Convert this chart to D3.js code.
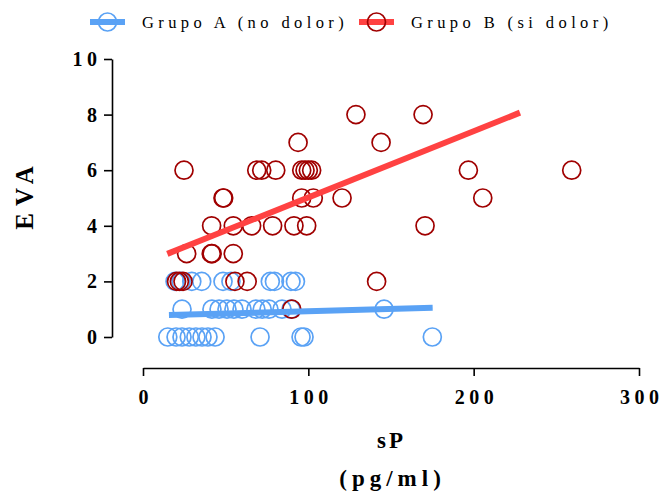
<!DOCTYPE html>
<html>
<head>
<meta charset="utf-8">
<script src="https://cdn.jsdelivr.net/npm/d3@7"></script>
<style>
  html, body { margin: 0; padding: 0; background: #fff; }
  svg { display: block; }
  text { font-family: "Liberation Serif", "Times New Roman", serif; fill: #000; }
</style>
</head>
<body>
<svg id="chart" width="660" height="495"></svg>
<script>
// Group A (no pain): substance P (pg/ml) and EVA score
const groupA_sP  = [15, 20, 23.6, 28, 32, 35.7, 39.3, 43.6, 70.8, 95.6, 97.4, 175,
                    23.6, 41.7, 46, 50.8, 55, 59.9, 68.3, 72.1, 76.2, 84.1, 89.5, 145.8,
                    19.4, 23, 29.5, 35.5, 48.4, 53.2, 77, 79.5, 89.5, 92.2];
const groupA_EVA = [0, 0, 0, 0, 0, 0, 0, 0, 0, 0, 0, 0,
                    1, 1, 1, 1, 1, 1, 1, 1, 1, 1, 1, 1,
                    2, 2, 2, 2, 2, 2, 2, 2, 2, 2];

// Group B (pain)
const groupB_sP  = [128.8, 169.4,
                    93.8, 144,
                    24.8, 68.8, 71.8, 80.3, 96, 98, 100, 102, 196.8, 259.3,
                    48.4, 48.8, 96, 103, 120.4, 205.5,
                    41.5, 54.6, 65.7, 78.4, 91.3, 99, 170.6,
                    26.4, 41.3, 41.8, 54.6,
                    20.3, 22, 24.2, 55.6, 63, 141.3,
                    90];
const groupB_EVA = [8, 8,
                    7, 7,
                    6, 6, 6, 6, 6, 6, 6, 6, 6, 6,
                    5, 5, 5, 5, 5, 5,
                    4, 4, 4, 4, 4, 4, 4,
                    3, 3, 3, 3,
                    2, 2, 2, 2, 2, 2,
                    1];

// Linear fit endpoints for each group
const fitA_sP = [15.7, 175.2];
const fitA_EVA = [0.79, 1.05];
const fitB_sP = [14.7, 228];
const fitB_EVA = [2.99, 8.07];

const xTicks = [0, 100, 200, 300];
const yTicks = [0, 2, 4, 6, 8, 10];
const legendLabels = ["Grupo A (no dolor)", "Grupo B (si dolor)"];

const colA = "#5aa2f5", colALine = "#5aa2f5";
const colB = "#a00000", colBLine = "#ff4242";

const svg = d3.select("#chart");

const x = d3.scaleLinear().domain([0, 300]).range([143, 639]);
const y = d3.scaleLinear().domain([0, 10]).range([337, 59]);

const tickSpacing = 4.5;

// Spread characters apart with tspans so no trailing gap is added after the last one
function spaced(sel, gap) {
  sel.each(function () {
    const t = d3.select(this);
    const s = t.text();
    t.text(null);
    [...s].forEach((ch, i) => t.append("tspan").attr("dx", i ? gap : 0).text(ch));
  });
}

// Axes (offset from one another)
const xAxis = svg.append("g")
  .attr("transform", "translate(0,368)")
  .call(d3.axisBottom(x).tickValues(xTicks).tickSize(8).tickSizeOuter(0).tickPadding(14));
const yAxis = svg.append("g")
  .attr("transform", "translate(112,0)")
  .call(d3.axisLeft(y).tickValues(yTicks).tickSize(8).tickSizeOuter(0).tickPadding(7));

[xAxis, yAxis].forEach(g => {
  g.select(".domain").attr("stroke", "#000").attr("stroke-width", 1.6);
  g.selectAll(".tick line").attr("stroke", "#000").attr("stroke-width", 1.6);
  g.selectAll(".tick text")
    .style("font-family", "'Liberation Serif', serif")
    .style("font-weight", "bold")
    .style("font-size", "20px")
    .attr("fill", "#000")
    .call(spaced, tickSpacing);
});

// Axis titles
svg.append("text")
  .attr("transform", "translate(33,198) rotate(-90)")
  .attr("text-anchor", "middle")
  .style("font-weight", "bold").style("font-size", "25px")
  .text("EVA").call(spaced, 7);
svg.append("text")
  .attr("x", 390).attr("y", 448)
  .attr("text-anchor", "middle")
  .style("font-weight", "bold").style("font-size", "23px")
  .text("sP").call(spaced, 3);
svg.append("text")
  .attr("x", 390).attr("y", 486)
  .attr("text-anchor", "middle")
  .style("font-weight", "bold").style("font-size", "23px")
  .text("(pg/ml)").call(spaced, 5);

// Points
const r = 9;
svg.append("g").selectAll("circle")
  .data(d3.zip(groupA_sP, groupA_EVA))
  .join("circle")
  .attr("cx", d => x(d[0])).attr("cy", d => y(d[1])).attr("r", r)
  .attr("fill", "none").attr("stroke", colA).attr("stroke-width", 1.7);

svg.append("g").selectAll("circle")
  .data(d3.zip(groupB_sP, groupB_EVA))
  .join("circle")
  .attr("cx", d => x(d[0])).attr("cy", d => y(d[1])).attr("r", r)
  .attr("fill", "none").attr("stroke", colB).attr("stroke-width", 1.7);

// Fit lines
const line = d3.line().x(d => x(d[0])).y(d => y(d[1]));
svg.append("path").datum(d3.zip(fitA_sP, fitA_EVA))
  .attr("d", line).attr("stroke", colALine).attr("stroke-width", 6).attr("fill", "none");
svg.append("path").datum(d3.zip(fitB_sP, fitB_EVA))
  .attr("d", line).attr("stroke", colBLine).attr("stroke-width", 6).attr("fill", "none");

// Legend
const legend = svg.append("g");
const legendItems = [
  { label: legendLabels[0], x0: 90, circ: colA, lineCol: colALine },
  { label: legendLabels[1], x0: 359, circ: colB, lineCol: colBLine }
];
legendItems.forEach(it => {
  const g = legend.append("g").attr("transform", `translate(${it.x0},22)`);
  g.append("line").attr("x1", 0).attr("x2", 35).attr("y1", 0).attr("y2", 0)
    .attr("stroke", it.lineCol).attr("stroke-width", 6);
  g.append("circle").attr("cx", 17.5).attr("cy", 0).attr("r", r)
    .attr("fill", "none").attr("stroke", it.circ).attr("stroke-width", 1.7);
  g.append("text").attr("x", 52).attr("y", 6)
    .style("font-size", "16.5px").style("letter-spacing", "4.4px")
    .text(it.label);
});
</script>
</body>
</html>
